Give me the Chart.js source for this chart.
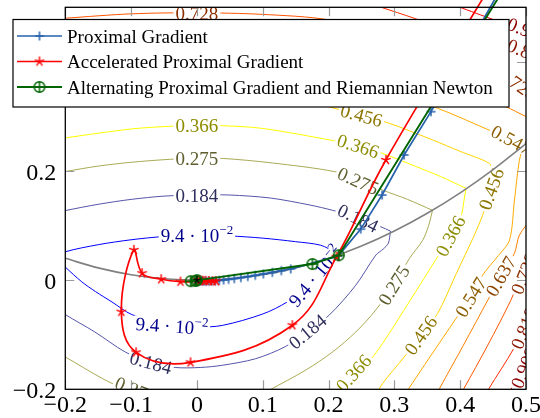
<!DOCTYPE html>
<html><head><meta charset="utf-8">
<script src="https://cdn.jsdelivr.net/npm/chart.js@4/dist/chart.umd.min.js"></script>
<style>html,body{margin:0;padding:0;background:#fff}canvas{display:block}</style>
</head><body>
<canvas id="c" width="540" height="418" style="width:540px;height:418px"></canvas>
<script>
// ---------- data ----------
const xTicks = [-0.2,-0.1,0,0.1,0.2,0.3,0.4,0.5];
const yTicks = [-0.2,0,0.2,0.4];
const seriesNames = ['Proximal Gradient','Accelerated Proximal Gradient','Alternating Proximal Gradient and Riemannian Newton'];

const pgX = [0.4607,0.3556,0.3148,0.2813,0.2489,0.2144,0.1425,0.1283,0.1146,0.1009,0.0887,0.0773,0.0667,0.0568,0.0481,0.0405,0.0339,0.0279,0.0225,0.018,0.0142,0.011,0.008,0.005];
const pgY = [0.532,0.3088,0.2294,0.156,0.0936,0.044,0.0206,0.0174,0.0143,0.0114,0.0088,0.0066,0.0046,0.0029,0.0015,0.0004,-0.0006,-0.0011,-0.0017,-0.0018,-0.0018,-0.0018,-0.0015,-0.001];

const apgX = [0.4423,0.2871,0.212,0.145,-0.0097,-0.0924,-0.1148,-0.0959,-0.0833,-0.0543,-0.025,0.004,0.029,0.024,0.018,0.013,0.009,0.005,0.002];
const apgY = [0.532,0.2202,0.0426,-0.0826,-0.1506,-0.1323,-0.0578,0.0554,0.0127,0.0017,-0.0028,-0.002,-0.002,-0.002,-0.0015,-0.001,-0.001,0,0];

const altX = [0.4655,0.2155,0.1755,-0.0094,-0.0018,0];
const altY = [0.532,0.0457,0.0295,-0.0018,-0.0015,0];

const solX = [0];
const solY = [0];

const manX = [-0.2,-0.15,-0.1,-0.05,0,0.05,0.1,0.15,0.2,0.25,0.3,0.35,0.4,0.45,0.5];
const manY = [0.04,0.0225,0.01,0.0025,0,0.0025,0.01,0.0225,0.04,0.0625,0.09,0.1225,0.16,0.2025,0.25];

const contourLevels = [0.094,0.184,0.275,0.366,0.456,0.547,0.637,0.728,0.818,0.909];

const c094 = [
 [[-0.215,0.042],[-0.2,0.052],[-0.15,0.065],[-0.1,0.074],[-0.05,0.080],[0,0.082],[0.05,0.081],[0.1,0.077],[0.15,0.0705],[0.188,0.064],[0.212,0.05]],
 [[0.212,0.05],[0.195,0.028],[0.18,0.007],[0.16,-0.016],[0.137,-0.04],[0.1,-0.062],[0.0385,-0.083],[0,-0.086],[-0.04,-0.083],[-0.099,-0.063],[-0.129,-0.04],[-0.154,-0.021],[-0.175,-0.003],[-0.2,0.024],[-0.215,0.042]]
];
const c184 = [
 [[-0.22,0.122],[-0.2,0.1275],[-0.15,0.139],[-0.1,0.148],[-0.05,0.154],[0,0.156],[0.05,0.156],[0.1116,0.1505],[0.172,0.1376],[0.206,0.128],[0.245,0.114],[0.279,0.098],[0.294,0.09]],
 [[0.294,0.09],[0.291,0.068],[0.283,0.057],[0.2718,0.0459],[0.2414,-0.0092],[0.2009,-0.0642],[0.168,-0.094],[0.134,-0.122],[0.089,-0.144],[0.0385,-0.156],[0.005,-0.16],[-0.033,-0.16],[-0.07,-0.151],[-0.109,-0.1316],[-0.155,-0.095],[-0.2,-0.063],[-0.22,-0.045]]
];
const c275 = [
 [[-0.22,0.194],[-0.2,0.199],[-0.15,0.209],[-0.1,0.216],[-0.04,0.2215],[0,0.223],[0.04,0.223],[0.115,0.2147],[0.21,0.1987],[0.245,0.183],[0.282,0.165],[0.32,0.148],[0.358,0.128]],
 [[0.358,0.128],[0.352,0.1],[0.343,0.073],[0.323,0.04],[0.299,-0.009],[0.2715,-0.055],[0.2414,-0.095],[0.206,-0.1316],[0.165,-0.165],[0.1096,-0.2018],[0.09,-0.215]],
 [[-0.25,-0.108],[-0.2,-0.1407],[-0.144,-0.18],[-0.1,-0.205],[-0.05,-0.225]]
];
const c366 = [
 [[-0.22,0.256],[-0.2,0.2606],[-0.1,0.277],[-0.04,0.282],[0,0.283],[0.04,0.283],[0.1,0.278],[0.206,0.256],[0.245,0.246],[0.2815,0.2325],[0.3327,0.2083],[0.37,0.19],[0.4088,0.1683]],
 [[0.4088,0.1683],[0.405,0.14],[0.4027,0.1224],[0.395,0.1],[0.3855,0.0807],[0.3657,0.0428],[0.324,-0.037],[0.282,-0.116],[0.256,-0.158],[0.238,-0.18],[0.22,-0.215]]
];
const c456 = [
 [[-0.22,0.318],[-0.2,0.322],[-0.1,0.339],[0,0.345],[0.1,0.34],[0.1877,0.321],[0.25,0.302],[0.2922,0.2875],[0.358,0.257],[0.4,0.236],[0.4444,0.214],[0.449,0.2]],
 [[0.449,0.2],[0.447,0.167],[0.434,0.119],[0.4215,0.0826],[0.3936,0.0108],[0.3657,-0.0611],[0.34,-0.101],[0.315,-0.1407],[0.282,-0.1895],[0.27,-0.215]]
];
const c547 = [
 [[-0.2,0.37],[0,0.39],[0.1,0.384],[0.2,0.37],[0.3,0.34],[0.3658,0.315],[0.4495,0.272],[0.478,0.257],[0.497,0.247]],
 [[0.497,0.247],[0.49,0.22],[0.4825,0.147],[0.475,0.0734],[0.458,0.045],[0.434,0.0092],[0.416,-0.031],[0.3936,-0.0703],[0.355,-0.139],[0.32,-0.202],[0.31,-0.22]]
];
const c637 = [
 [[-0.2,0.42],[0,0.44],[0.1,0.434],[0.2,0.42],[0.3,0.39],[0.4,0.35],[0.469,0.318],[0.4997,0.3],[0.52,0.29]],
 [[0.51,0.115],[0.49,0.0826],[0.4825,0.0495],[0.4617,0.0073],[0.4419,-0.0367],[0.405,-0.119],[0.368,-0.2],[0.36,-0.22]]
];
const c728 = [
 [[-0.22,0.478],[-0.2,0.48],[-0.1,0.488],[0,0.49],[0.1,0.487],[0.2,0.477],[0.3,0.445],[0.4,0.40],[0.485,0.362],[0.52,0.345]],
 [[0.525,0.07],[0.495,0.0147],[0.477,-0.0367],[0.442,-0.119],[0.405,-0.2],[0.395,-0.22]]
];
const c818 = [
 [[0.15,0.54],[0.2,0.527],[0.25,0.512],[0.28,0.5],[0.33,0.48],[0.4,0.45],[0.5,0.413],[0.52,0.405]],
 [[0.53,-0.02],[0.495,-0.086],[0.4815,-0.125],[0.443,-0.2],[0.435,-0.22]]
];
const c909 = [
 [[0.35,0.52],[0.403,0.4985],[0.431,0.486],[0.5,0.456],[0.52,0.447]],
 [[0.53,-0.1],[0.495,-0.158],[0.4845,-0.187],[0.477,-0.2],[0.47,-0.22]]
];
const contourPieces = [c094,c184,c275,c366,c456,c547,c637,c728,c818,c909];

// contour labels: text, position (data), level index
const labelText  = ['0.728','0.366','0.275','0.184','9.4 · 10^−2','0.456','0.366','0.275','0.184','9.4 · 10^−2','9.4 · 10^−2','0.184','0.184','0.275','0.275','0.366','0.366','0.456','0.456','0.547','0.547','0.637','0.728','0.818','0.909','0.909','0.818','0.728'];
const labelX     = [0,0,0,0,0,0.25,0.245,0.245,0.245,0.18,-0.038,0.168,-0.07,-0.093,0.299,0.385,0.238,0.447,0.34,0.416,0.478,0.4617,0.497,0.497,0.497,0.503,0.503,0.487];
const labelY     = [0.489,0.283,0.223,0.156,0.082,0.302,0.246,0.182,0.114,0.007,-0.084,-0.094,-0.151,-0.201,-0.009,0.081,-0.17,0.167,-0.101,-0.031,0.257,0.0073,0.012,-0.088,-0.16,0.457,0.418,0.36];
const labelLevel = [7,3,2,1,0,4,3,2,1,0,0,1,1,2,2,3,3,4,4,5,5,6,7,8,9,9,8,7];
const labelAngle = [0,0,0,0,0,15,18,24,26,-50,4,-40,15,22,-58,-62,-48,-70,-55,-58,28,-60,-68,-68,-68,22,22,35];

// ---------- styles ----------
const levelColors = [[0,0,255],[85,85,170],[170,170,85],[255,255,0],[255,212,0],[255,170,0],[255,128,0],[255,85,0],[255,43,0],[255,0,0]];
const rgb = (c,k=1)=>`rgb(${Math.round(c[0]*k)},${Math.round(c[1]*k)},${Math.round(c[2]*k)})`;
const BLUE = 'rgb(38,98,172)', RED = 'rgb(255,0,0)', GREEN = 'rgb(0,100,0)', GRAY = 'rgb(128,128,128)';
const SERIF = '"Liberation Serif", "DejaVu Serif", serif';

function mk(size, draw){ const c=document.createElement('canvas'); c.width=c.height=size; const g=c.getContext('2d'); g.translate(size/2,size/2); draw(g); return c; }
const plusMark = mk(14, g=>{ g.strokeStyle=BLUE; g.lineWidth=1.5; g.beginPath(); g.moveTo(-4.5,0); g.lineTo(4.5,0); g.moveTo(0,-4.5); g.lineTo(0,4.5); g.stroke(); });
function starDraw(color, r, lw){ return g=>{ g.strokeStyle=color; g.lineWidth=lw; g.beginPath(); for(let k=0;k<5;k++){ const a=-Math.PI/2+k*2*Math.PI/5; g.moveTo(0,0); g.lineTo(r*Math.cos(a), r*Math.sin(a)); } g.stroke(); }; }
const starMark = mk(14, starDraw(RED,5,1.4));
const blackStar = mk(12, starDraw('#000',4.2,1.2));
const oplusMark = mk(16, g=>{ g.strokeStyle=GREEN; g.lineWidth=1.5; g.beginPath(); g.arc(0,0,5.3,0,2*Math.PI); g.moveTo(-5.3,0); g.lineTo(5.3,0); g.moveTo(0,-5.3); g.lineTo(0,5.3); g.stroke(); });

const pts = (xs,ys)=>xs.map((x,i)=>({x, y:ys[i]}));

// ---------- datasets ----------
const datasets = [];
contourPieces.forEach((pieces, li)=>{
  pieces.forEach(p=>{
    datasets.push({ data: p.map(q=>({x:q[0],y:q[1]})), showLine:true, borderColor: rgb(levelColors[li]), borderWidth:1, pointRadius:0, tension:0.3, order:10, label:'c'+contourLevels[li] });
  });
});
datasets.push({ label:'manifold', isManifold:true, data: pts(manX,manY), showLine:true, borderColor:GRAY, borderWidth:1.6, pointRadius:0, cubicInterpolationMode:'monotone', order:4 });
datasets.push({ label: seriesNames[0], data: pts(pgX,pgY), showLine:true, borderColor:BLUE, borderWidth:1.7, pointStyle:plusMark, pointRadius:4, tension:0, order:3, clip:false });
datasets.push({ label: seriesNames[1], data: pts(apgX,apgY), showLine:true, borderColor:RED, borderWidth:1.7, pointStyle:starMark, pointRadius:4, tension:0.4, order:2, clip:false });
datasets.push({ label: seriesNames[2], data: pts(altX,altY), showLine:true, borderColor:GREEN, borderWidth:1.9, pointStyle:oplusMark, pointRadius:5, tension:0, order:1, clip:false });
datasets.push({ label:'solution', data: pts(solX,solY), showLine:false, pointStyle:blackStar, pointRadius:4, order:0 });

// ---------- plugins ----------
function fmt(v){ if (Math.abs(v)<1e-9) return '0'; return (v<0?'\u2212':'') + Math.abs(v).toFixed(1); }

function drawLabel(ctx, txt, color){
  const main = '19px '+SERIF, sup = '13px '+SERIF;
  let parts;
  if (txt.indexOf('^')>=0){ const s=txt.split('^'); parts=[[s[0],main,6.5],[s[1],sup,-1.5]]; } else parts=[[txt,main,6.5]];
  let w=0; parts.forEach(p=>{ ctx.font=p[1]; p.push(ctx.measureText(p[0]).width); w+=p[3]; });
  ctx.fillStyle='#fff'; ctx.fillRect(-w/2-2,-8,w+4,16);
  ctx.fillStyle=color; ctx.textBaseline='alphabetic'; ctx.textAlign='left';
  let x=-w/2; parts.forEach(p=>{ ctx.font=p[1]; ctx.fillText(p[0], x, p[2]); x+=p[3]; });
}

const labelPlugin = {
  id:'contourLabels',
  beforeDatasetDraw(chart, args){
    if (!chart.data.datasets[args.index].isManifold) return;
    const ctx=chart.ctx, a=chart.chartArea, sx=chart.scales.x, sy=chart.scales.y;
    ctx.save();
    ctx.beginPath(); ctx.rect(a.left, a.top, a.right-a.left, a.bottom-a.top); ctx.clip();
    for (let i=0;i<labelText.length;i++){
      ctx.save();
      ctx.translate(sx.getPixelForValue(labelX[i]), sy.getPixelForValue(labelY[i]));
      ctx.rotate(labelAngle[i]*Math.PI/180);
      drawLabel(ctx, labelText[i], rgb(levelColors[labelLevel[i]],0.55));
      ctx.restore();
    }
    ctx.restore();
  }
};

const axisPlugin = {
  id:'axisFrame',
  afterDatasetsDraw(chart){
    const ctx=chart.ctx, a=chart.chartArea, sx=chart.scales.x, sy=chart.scales.y;
    ctx.save();
    ctx.strokeStyle='#9a9a9a'; ctx.lineWidth=1.2;
    const L=9;
    ctx.beginPath();
    xTicks.forEach(v=>{ const X=Math.round(sx.getPixelForValue(v))+0.5; ctx.moveTo(X,a.bottom); ctx.lineTo(X,a.bottom-L); ctx.moveTo(X,a.top); ctx.lineTo(X,a.top+L); });
    yTicks.forEach(v=>{ const Y=Math.round(sy.getPixelForValue(v))+0.5; ctx.moveTo(a.left,Y); ctx.lineTo(a.left+L,Y); ctx.moveTo(a.right,Y); ctx.lineTo(a.right-L,Y); });
    ctx.stroke();
    ctx.strokeStyle='#000'; ctx.lineWidth=1.3;
    ctx.strokeRect(a.left,a.top,a.right-a.left,a.bottom-a.top);
    ctx.fillStyle='#000'; ctx.font='24px '+SERIF; ctx.textBaseline='alphabetic';
    ctx.textAlign='center';
    xTicks.forEach(v=>ctx.fillText(fmt(v), sx.getPixelForValue(v), 412));
    ctx.textAlign='right';
    yTicks.forEach(v=>ctx.fillText(fmt(v), a.left-9, sy.getPixelForValue(v)+8.5));
    ctx.restore();
  }
};

const legendPlugin = {
  id:'pgfLegend',
  afterDraw(chart){
    const ctx=chart.ctx;
    ctx.save();
    const bx=13, by=19.5, bw=496, bh=87.5;
    ctx.fillStyle='#fff'; ctx.fillRect(bx,by,bw,bh);
    ctx.strokeStyle='#000'; ctx.lineWidth=1.2; ctx.strokeRect(bx,by,bw,bh);
    const rows=[36,61.5,87], cols=[BLUE,RED,GREEN], marks=[plusMark,starMark,oplusMark], lws=[1.7,1.7,1.9];
    ctx.font='19px '+SERIF; ctx.textBaseline='alphabetic'; ctx.textAlign='left';
    for(let i=0;i<3;i++){
      ctx.strokeStyle=cols[i]; ctx.lineWidth=lws[i];
      ctx.beginPath(); ctx.moveTo(17,rows[i]); ctx.lineTo(62,rows[i]); ctx.stroke();
      const m=marks[i]; ctx.drawImage(m, 39.5-m.width/2, rows[i]-m.height/2);
      ctx.fillStyle='#000'; ctx.fillText(seriesNames[i], 67, rows[i]+6.5);
    }
    ctx.restore();
  }
};

Chart.defaults.font.family = SERIF;
new Chart(document.getElementById('c').getContext('2d'), {
  type:'scatter',
  data:{ datasets },
  options:{
    responsive:false, animation:false, devicePixelRatio:1, events:[],
    layout:{ padding:{ left:65.3, right:14, top:7.3, bottom:28.7 } },
    scales:{
      x:{ type:'linear', min:-0.2, max:0.5, display:false },
      y:{ type:'linear', min:-0.2, max:0.5, display:false }
    },
    plugins:{ legend:{display:false}, tooltip:{enabled:false} }
  },
  plugins:[labelPlugin, axisPlugin, legendPlugin]
});
</script>
</body></html>
